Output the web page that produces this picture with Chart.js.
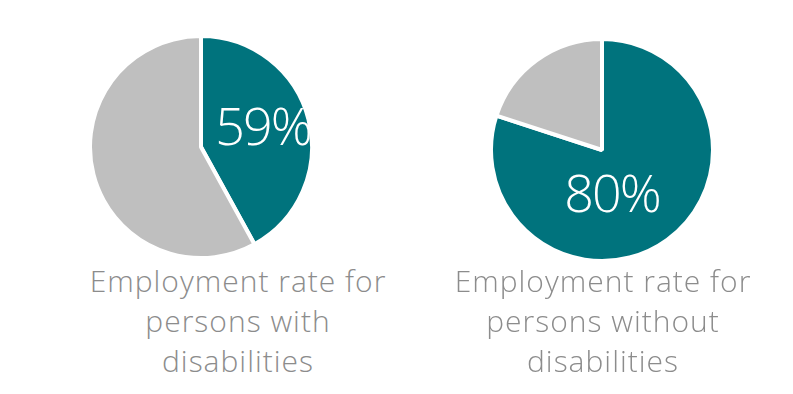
<!DOCTYPE html>
<html>
<head>
<meta charset="utf-8">
<script src="https://cdn.jsdelivr.net/npm/chart.js@4"></script>
<style>
  body { margin: 0; background: #fff; width: 793px; height: 394px; position: relative; overflow: hidden; font-family: "Open Sans", sans-serif; }
  .pie { position: absolute; width: 226px; height: 226px; }
  .caption { position: absolute; width: 360px; text-align: center; color: #8c8c8c; font-size: 30px; font-weight: 300; line-height: 40px; letter-spacing: 1px; }
</style>
</head>
<body>
<div class="pie" style="left:88px; top:34px;"><canvas id="pieWith"></canvas></div>
<div class="pie" style="left:489px; top:37px;"><canvas id="pieWithout"></canvas></div>
<div class="caption" style="left:58px; top:261px;">Employment rate for<br>persons with<br>disabilities</div>
<div class="caption" style="left:423px; top:261px;">Employment rate for<br>persons without<br>disabilities</div>
<script>
// ===== Data =====
const sliceNames = ['Employed', 'Other'];
const withDisabilities = [42, 58];
const withoutDisabilities = [80, 20];
const rateLabels = ['59%', '80%'];

const teal = '#00737d';
const grey = '#bfbfbf';

// draws the big white percentage on the teal slice
const rateLabelPlugin = {
    id: 'rateLabel',
    afterDatasetsDraw(chart, args, opts) {
        const arc = chart.getDatasetMeta(0).data[0];
        const ctx = chart.ctx;
        ctx.save();
        ctx.fillStyle = '#fff';
        ctx.font = '300 52px "Open Sans", sans-serif';
        ctx.letterSpacing = '-2px';
        ctx.textAlign = 'center';
        ctx.textBaseline = 'alphabetic';
        ctx.fillText(opts.text, arc.x + opts.dx, arc.y + opts.dy);
        ctx.restore();
    }
};

function makePie(id, values, label, dx, dy) {
    const ctx = document.getElementById(id).getContext('2d');
    return new Chart(ctx, {
        type: 'pie',
        data: {
            labels: sliceNames,
            datasets: [{
                data: values,
                backgroundColor: [teal, grey],
                borderColor: '#fff',
                borderWidth: 4,
                hoverOffset: 0
            }]
        },
        options: {
            responsive: true,
            maintainAspectRatio: false,
            animation: false,
            layout: { padding: 0 },
            plugins: {
                legend: { display: false },
                tooltip: { enabled: false },
                rateLabel: { text: label, dx: dx, dy: dy }
            }
        },
        plugins: [rateLabelPlugin]
    });
}

makePie('pieWith', withDisabilities, rateLabels[0], 62, -2);
makePie('pieWithout', withoutDisabilities, rateLabels[1], 10, 62);
</script>
</body>
</html>
